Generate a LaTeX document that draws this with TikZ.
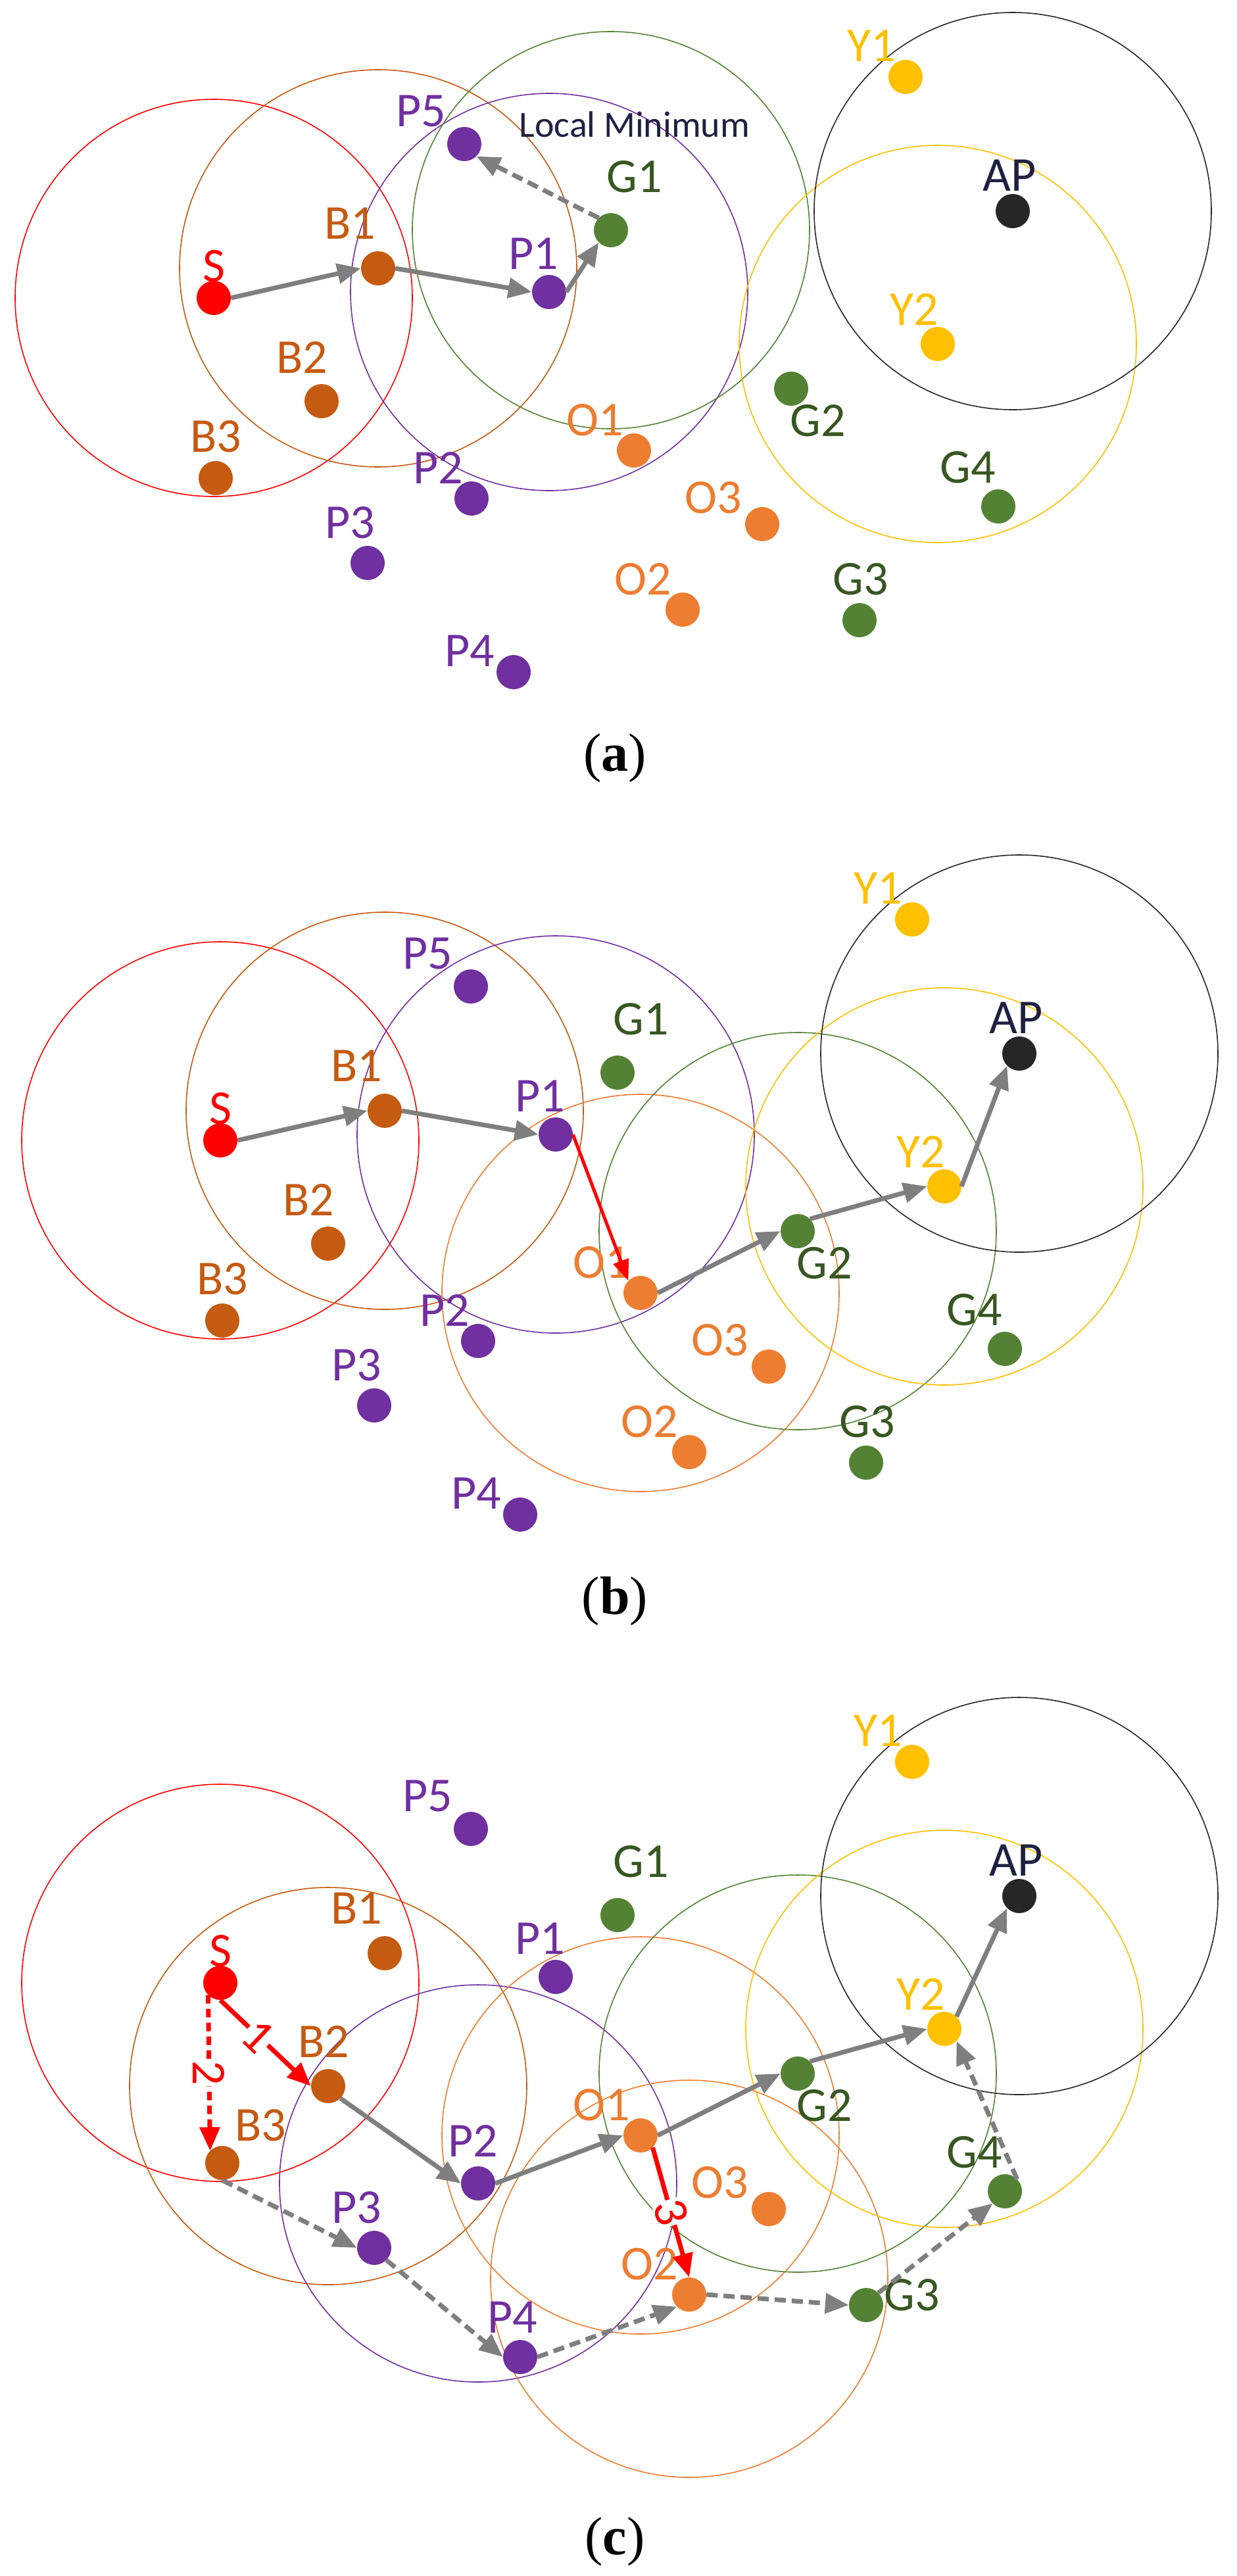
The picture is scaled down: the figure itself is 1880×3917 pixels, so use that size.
\documentclass[tikz,border=0pt]{standalone}
\usepackage{fontspec}
\setmainfont{Carlito}
\newfontfamily\capfont{Liberation Serif}
\usetikzlibrary{arrows.meta,backgrounds}

\definecolor{cS}{HTML}{FF0000}
\definecolor{cB}{HTML}{C55A11}
\definecolor{cP}{HTML}{7030A0}
\definecolor{cG}{HTML}{548235}
\definecolor{cGt}{HTML}{385723}
\definecolor{cO}{HTML}{ED7D31}
\definecolor{cY}{HTML}{FFC000}
\definecolor{cK}{HTML}{262626}
\definecolor{cN}{HTML}{1F2041}
\definecolor{cA}{HTML}{7F7F7F}

\tikzset{
  dot/.style={circle, inner sep=0pt, minimum size=52pt},
  lab/.style={inner sep=0pt, font=\fontsize{74}{80}\selectfont},
  rng/.style={line width=1.6pt},
  garr/.style={draw=cA, line width=7pt, -{Triangle[length=36pt,width=30pt]}},
  gdash/.style={garr, dash pattern=on 17pt off 9pt},
  rarr/.style={draw=cS, line width=7pt, -{Triangle[length=36pt,width=30pt]}},
  rthin/.style={draw=cS, line width=5pt, -{Triangle[length=32pt,width=24pt]}},
  rdash/.style={rarr, dash pattern=on 13pt off 8pt},
  num/.style={fill=white, inner sep=1pt, text=cS, font=\fontsize{74}{80}\selectfont},
  capt/.style={inner sep=0pt, font=\capfont\fontsize{82}{90}\selectfont},
}

% dots and the labels common to all panels (coordinates of panel b)
\newcommand\placepts[1]{%
  \node[dot,fill=cS] (#1S) at (335,1734) {};
  \node[dot,fill=cB] (#1B1) at (585,1689) {};
  \node[dot,fill=cB] (#1B2) at (499,1891) {};
  \node[dot,fill=cB] (#1B3) at (338,2008) {};
  \node[dot,fill=cP] (#1P1) at (845,1725) {};
  \node[dot,fill=cP] (#1P2) at (727,2039) {};
  \node[dot,fill=cP] (#1P3) at (569,2137) {};
  \node[dot,fill=cP] (#1P4) at (791,2303) {};
  \node[dot,fill=cP] (#1P5) at (716,1500) {};
  \node[dot,fill=cG] (#1G1) at (939,1631) {};
  \node[dot,fill=cG] (#1G2) at (1213,1872) {};
  \node[dot,fill=cG] (#1G3) at (1317,2224) {};
  \node[dot,fill=cG] (#1G4) at (1528,2051) {};
  \node[dot,fill=cO] (#1O1) at (974,1966) {};
  \node[dot,fill=cO] (#1O2) at (1048,2208) {};
  \node[dot,fill=cO] (#1O3) at (1169,2078) {};
  \node[dot,fill=cY] (#1Y1) at (1387,1398) {};
  \node[dot,fill=cY] (#1Y2) at (1436,1804) {};
  \node[dot,fill=cK] (#1AP) at (1550,1602) {};
  \node[lab,text=cS] (#1lS) at (335,1686) {S};
  \node[lab,text=cB] (#1lB1) at (542,1621) {B1};
  \node[lab,text=cP] (#1lP1) at (821,1667) {P1};
  \node[lab,text=cP] (#1lP3) at (542,2076) {P3};
  \node[lab,text=cP] (#1lP5) at (650,1450) {P5};
  \node[lab,text=cGt] (#1lG1) at (975,1550) {G1};
  \node[lab,text=cGt] (#1lG2) at (1254,1921) {G2};
  \node[lab,text=cGt] (#1lG4) at (1482,1992) {G4};
  \node[lab,text=cO] (#1lO1) at (915,1920) {O1};
  \node[lab,text=cO] (#1lO2) at (988,2162) {O2};
  \node[lab,text=cO] (#1lO3) at (1095,2038) {O3};
  \node[lab,text=cY] (#1lY1) at (1335,1351) {Y1};
  \node[lab,text=cY] (#1lY2) at (1400,1751) {Y2};
  \node[lab,text=cN] (#1lAP) at (1545,1548) {AP};
}
\newcommand\oldlabels[1]{%
  \node[lab,text=cB] (#1lB2) at (469,1824) {B2};
  \node[lab,text=cB] (#1lB3) at (338,1945) {B3};
  \node[lab,text=cP] (#1lP2) at (676,1992) {P2};
  \node[lab,text=cP] (#1lP4) at (724,2271) {P4};
  \node[lab,text=cGt] (#1lG3) at (1319,2162) {G3};
}

\begin{document}
\begin{tikzpicture}[x=1pt,y=-1pt]
\begin{scope}[on background layer]
  \fill[white] (0,0) rectangle (1880,3917);
\end{scope}
\useasboundingbox (0,0) rectangle (1880,3917);

% ---------------- panel (a)
\begin{scope}[shift={(-10,-1281)}]
  \placepts{a}
  \oldlabels{a}
  \node[inner sep=0pt, anchor=base, text=cN, font=\fontsize{56}{60}\selectfont] (alm) at (975,1489) {Local Minimum};
\end{scope}
\begin{scope}[on background layer]
  \draw[rng,cS] (aS) circle (302pt);
  \draw[rng,cB] (aB1) circle (302pt);
  \draw[rng,cP] (aP1) circle (302pt);
  \draw[rng,cG] (aG1) circle (302pt);
  \draw[rng,cY] (aY2) circle (302pt);
  \draw[rng,cK] (aAP) circle (302pt);
\end{scope}
\draw[garr] (aS.east) -- (aB1.west);
\draw[garr] (aB1.east) -- (aP1.west);
\draw[garr] (aP1.east) -- (aG1.south west);
\draw[gdash] (aG1.north west) -- (aP5.south east);
\node[capt] (capa) at (935,1153) {(\textbf{a})};

% ---------------- panel (b)
\placepts{b}
\oldlabels{b}
\begin{scope}[on background layer]
  \draw[rng,cS] (bS) circle (302pt);
  \draw[rng,cB] (bB1) circle (302pt);
  \draw[rng,cP] (bP1) circle (302pt);
  \draw[rng,cO] (bO1) circle (302pt);
  \draw[rng,cG] (bG2) circle (302pt);
  \draw[rng,cY] (bY2) circle (302pt);
  \draw[rng,cK] (bAP) circle (302pt);
\end{scope}
\draw[garr] (bS.east) -- (bB1.west);
\draw[garr] (bB1.east) -- (bP1.west);
\draw[rthin] (bP1.east) -- (bO1.north west);
\draw[garr] (bO1.east) -- (bG2.west);
\draw[garr] (bG2.north east) -- (bY2.west);
\draw[garr] (bY2.east) -- (bAP.south west);
\node[capt] (capb) at (935,2435) {(\textbf{b})};

% ---------------- panel (c)
\begin{scope}[shift={(0,1281)}]
  \placepts{c}
  \node[lab,text=cB] (clB2) at (492,1823) {B2};
  \node[lab,text=cB] (clB3) at (396,1951) {B3};
  \node[lab,text=cP] (clP2) at (719,1974) {P2};
  \node[lab,text=cP] (clP4) at (779,2243) {P4};
  \node[lab,text=cGt] (clG3) at (1387,2209) {G3};
\end{scope}
\begin{scope}[on background layer]
  \draw[rng,cS] (cS) circle (302pt);
  \draw[rng,cB] (cB2) circle (302pt);
  \draw[rng,cP] (cP2) circle (302pt);
  \draw[rng,cO] (cO1) circle (302pt);
  \draw[rng,cO] ([yshift=24pt]cO2.center) circle (302pt);
  \draw[rng,cG] (cG2) circle (302pt);
  \draw[rng,cY] (cY2) circle (302pt);
  \draw[rng,cK] (cAP) circle (302pt);
\end{scope}
\draw[garr] (cB2.south east) -- (cP2.west);
\draw[garr] (cP2.east) -- (cO1.west);
\draw[garr] (cO1.east) -- (cG2.west);
\draw[garr] (cG2.north east) -- (cY2.west);
\draw[garr] (cY2.north east) -- (cAP.south west);
\draw[gdash] (cB3.south) -- (cP3.west);
\draw[gdash] (cP3.south east) -- (cP4.west);
\draw[gdash] (cP4.east) -- (cO2.south west);
\draw[gdash] (cO2.east) -- (cG3.west);
\draw[gdash] (cG3.north east) -- (cG4.south west);
\draw[gdash] (cG4.north east) -- (cY2.south east);
\draw[rarr] (cS.south) -- node[num, sloped, pos=0.42] (n1) {1} (cB2.west);
\draw[rdash] (cS.south west) -- node[num, rotate=-90, pos=0.5] (n2) {2} (cB3.north west);
\draw[rarr] (cO1.south east) -- node[num, sloped, pos=0.5] (n3) {3} (cO2.north);
\node[capt] (capc) at (935,3865) {(\textbf{c})};
\end{tikzpicture}
\end{document}
